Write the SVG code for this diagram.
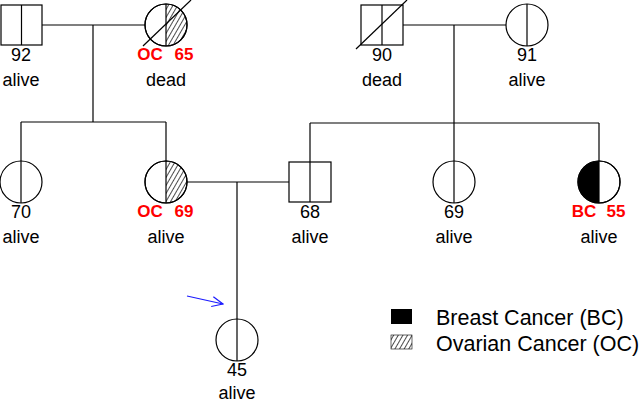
<svg xmlns="http://www.w3.org/2000/svg" width="640" height="402" viewBox="0 0 640 402">
<style>
.sh{fill:#fff;stroke:#000;stroke-width:1.2}
.ln{fill:none;stroke:#000;stroke-width:1.2}
.hat{fill:url(#hatch);stroke:none}
.blk{fill:#000;stroke:none}
.t{font-family:"Liberation Sans",Arial,sans-serif;font-size:18px;fill:#000;text-anchor:middle}
.r{font-family:"Liberation Sans",Arial,sans-serif;font-size:17px;font-weight:bold;fill:#f00;text-anchor:middle}
.lg{font-family:"Liberation Sans",Arial,sans-serif;font-size:21.5px;fill:#000}
</style>
<defs>
<pattern id="hatch" patternUnits="userSpaceOnUse" width="4" height="4" patternTransform="rotate(30)">
<line x1="0" y1="-1" x2="0" y2="5" stroke="#000" stroke-width="1.4"/>
</pattern>
<marker id="arr" markerWidth="12" markerHeight="12" refX="11" refY="6" orient="auto" markerUnits="userSpaceOnUse">
<path d="M0,1 L11,6 L0,11" fill="none" stroke="#1a1aff" stroke-width="1.2"/>
</marker>
</defs>

<g id="connectors" class="ln">
<line x1="42" y1="25" x2="145" y2="25"/>
<line x1="93" y1="25" x2="93" y2="122"/>
<line x1="21" y1="122" x2="166" y2="122"/>
<line x1="21" y1="122" x2="21" y2="162"/>
<line x1="166" y1="122" x2="166" y2="162"/>
<line x1="403" y1="25" x2="506" y2="25"/>
<line x1="454" y1="25" x2="454" y2="161"/>
<line x1="310" y1="123" x2="599" y2="123"/>
<line x1="310" y1="123" x2="310" y2="162"/>
<line x1="599" y1="123" x2="599" y2="161"/>
<line x1="187" y1="182" x2="289" y2="182"/>
<line x1="237" y1="182" x2="237" y2="319"/>
</g>

<g id="n92">
<rect class="sh" x="1" y="5" width="41" height="40"/>
<line class="ln" x1="21.5" y1="5" x2="21.5" y2="45"/>
<text class="t" x="21" y="61">92</text>
<text class="t" x="21" y="86">alive</text>
</g>

<g id="n65">
<circle class="sh" cx="166" cy="25" r="21"/>
<path class="hat" d="M166,4 A21,21 0 0 1 166,46 Z"/>
<line class="ln" x1="166" y1="4" x2="166" y2="46"/>
<circle cx="166" cy="25" r="21" fill="none" stroke="#000" stroke-width="1.2"/>
<line class="ln" x1="143" y1="46" x2="191" y2="0"/>
<text class="r" x="150" y="60">OC</text>
<text class="r" x="184" y="60">65</text>
<text class="t" x="166" y="86">dead</text>
</g>

<g id="n90">
<rect class="sh" x="361" y="5" width="42" height="40"/>
<line class="ln" x1="382" y1="5" x2="382" y2="45"/>
<line class="ln" x1="356" y1="49" x2="407" y2="0"/>
<text class="t" x="382" y="61">90</text>
<text class="t" x="382" y="86">dead</text>
</g>

<g id="n91">
<circle class="sh" cx="527" cy="25" r="21"/>
<line class="ln" x1="527" y1="4" x2="527" y2="46"/>
<text class="t" x="527" y="61">91</text>
<text class="t" x="527" y="86">alive</text>
</g>

<g id="n70">
<circle class="sh" cx="21" cy="182" r="21"/>
<line class="ln" x1="21" y1="161" x2="21" y2="203"/>
<text class="t" x="21" y="218">70</text>
<text class="t" x="21" y="243">alive</text>
</g>

<g id="n69oc">
<circle class="sh" cx="166" cy="182" r="21"/>
<path class="hat" d="M166,161 A21,21 0 0 1 166,203 Z"/>
<line class="ln" x1="166" y1="161" x2="166" y2="203"/>
<circle cx="166" cy="182" r="21" fill="none" stroke="#000" stroke-width="1.2"/>
<text class="r" x="150" y="217">OC</text>
<text class="r" x="184" y="217">69</text>
<text class="t" x="166" y="243">alive</text>
</g>

<g id="n68">
<rect class="sh" x="289" y="162" width="42" height="40"/>
<line class="ln" x1="310" y1="162" x2="310" y2="202"/>
<text class="t" x="310" y="218">68</text>
<text class="t" x="310" y="243">alive</text>
</g>

<g id="n69">
<circle class="sh" cx="454" cy="182" r="21"/>
<line class="ln" x1="454" y1="161" x2="454" y2="203"/>
<text class="t" x="454" y="218">69</text>
<text class="t" x="454" y="243">alive</text>
</g>

<g id="n55">
<circle class="sh" cx="599" cy="182" r="21"/>
<path class="blk" d="M599,161 A21,21 0 0 0 599,203 Z"/>
<line class="ln" x1="599" y1="161" x2="599" y2="203"/>
<circle cx="599" cy="182" r="21" fill="none" stroke="#000" stroke-width="1.2"/>
<text class="r" x="584" y="217">BC</text>
<text class="r" x="616" y="217">55</text>
<text class="t" x="599" y="243">alive</text>
</g>

<g id="n45">
<circle class="sh" cx="237" cy="340" r="21"/>
<line class="ln" x1="237" y1="319" x2="237" y2="361"/>
<text class="t" x="237" y="376">45</text>
<text class="t" x="237" y="399">alive</text>
</g>

<g id="proband-arrow">
<line x1="187" y1="296" x2="223" y2="304" stroke="#1a1aff" stroke-width="1.2" marker-end="url(#arr)"/>
</g>

<g id="legend">
<rect x="391" y="309" width="21" height="15" fill="#000"/>
<text class="lg" x="436" y="325">Breast Cancer (BC)</text>
<rect x="391" y="335" width="21" height="14" fill="url(#hatch)" stroke="#000" stroke-width="0.6"/>
<text class="lg" x="436" y="351">Ovarian Cancer (OC)</text>
</g>
</svg>
